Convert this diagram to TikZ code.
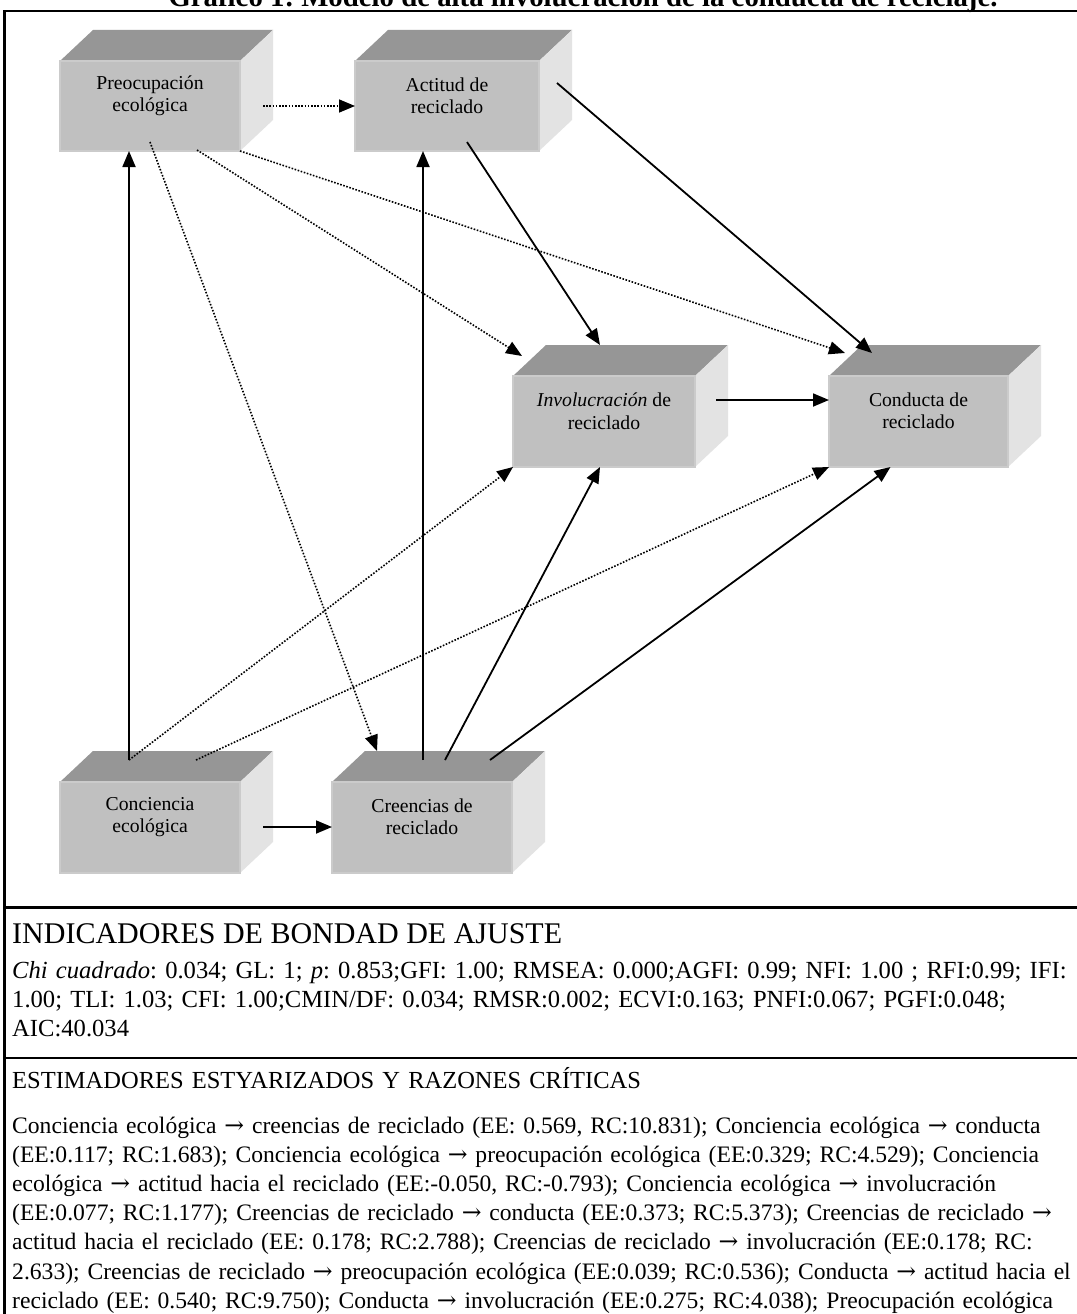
\documentclass[tikz,border=0pt]{standalone}
\usepackage{fontspec}
\setmainfont{Liberation Serif}
\newfontfamily\arrowfont{DejaVu Serif}
\newcommand\rarr{{\arrowfont →}}
\usetikzlibrary{arrows.meta,calc}
\definecolor{frontgray}{HTML}{C0C0C0}
\definecolor{topgray}{HTML}{969696}
\definecolor{sidegray}{HTML}{E3E3E3}
\definecolor{edgegray}{HTML}{CBCBCB}
\tikzset{
  topface/.style={fill=topgray},
  sideface/.style={fill=sidegray},
  frontface/.style={fill=frontgray, draw=edgegray, line width=1.5pt, inner sep=0pt, outer sep=0pt, anchor=north west},
  boxtext/.style={align=center, inner sep=0pt, font=\fontsize{19.7}{22.5}\selectfont},
  solidarrow/.style={line width=1.8pt, -{Triangle[length=16pt,width=13pt]}},
  dotarrow/.style={line width=1.6pt, dash pattern=on 1.6pt off 1.6pt, -{Triangle[length=16pt,width=13pt]}},
  framerule/.style={line width=2.5pt},
  hdrtext/.style={anchor=base west, inner sep=0pt, font=\fontsize{30}{34}\selectfont},
  bodytext/.style={anchor=base west, inner sep=0pt, text width=1300pt, align=left},
  titletext/.style={anchor=base, inner sep=0pt, font=\fontsize{28.8}{32}\selectfont\bfseries}
}
\newcommand\cubebox[6]{%
  \fill[topface] (#2,#3) -- ++(33,-31) -- ++(#4,0) -- ++(-33,31) -- cycle;
  \fill[sideface] (#2+#4,#3) -- ++(33,-31) -- ++(0,#5) -- ++(-33,31) -- cycle;
  \node[frontface, minimum width=#4pt, minimum height=#5pt] (#1) at (#2,#3) {};
  \node[boxtext] (#1-t) at ($(#1.north)+(0,35)$) {#6};
}
\hyphenpenalty=10000
\frenchspacing
\begin{document}
\begin{tikzpicture}[x=1pt,y=-1pt]
\useasboundingbox (0,0) rectangle (1076,1314);
\fill[white] (0,0) rectangle (1076,1314);
% title (cut by the page edge)
\node[titletext] (title) at (583,7) {Gráfico 1: Modelo de alta involucración de la conducta de reciclaje.};
% frame
\draw[framerule] (4.5,1330) -- (4.5,11) -- (1090,11);
\draw[line width=3pt] (4.5,907) -- (1090,907);
\draw[line width=2pt] (4.5,1058) -- (1090,1058);
% boxes
\cubebox{preoc}{60}{61}{180}{90}{Preocupación\\ecológica}
\cubebox{actitud}{355}{61}{184}{90}{Actitud de\\reciclado}
\cubebox{invol}{513}{376}{182}{91}{\textit{Involucración} de\\reciclado}
\cubebox{conducta}{829}{376}{179}{91}{Conducta de\\reciclado}
\cubebox{conciencia}{60}{782}{180}{91}{Conciencia\\ecológica}
\cubebox{creencias}{332}{782}{180}{91}{Creencias de\\reciclado}
% named start points
\coordinate (cc-a) at ($(conciencia.north)+(-21,-22)$);
\coordinate (cc-b) at ($(conciencia.north)+(46,-22)$);
\coordinate (cc-c) at ($(conciencia.north east)+(23,45)$);
\coordinate (cr-a) at ($(creencias.north)+(1,-22)$);
\coordinate (cr-b) at ($(creencias.north)+(23,-22)$);
\coordinate (cr-c) at ($(creencias.north)+(68,-22)$);
\coordinate (pr-a) at ($(preoc.south)+(0,-9)$);
\coordinate (pr-b) at ($(preoc.south)+(47,-1)$);
\coordinate (ac-a) at ($(actitud.south)+(20,-9)$);
\coordinate (ac-b) at ($(actitud.north east)+(18,22)$);
\coordinate (iv-a) at ($(invol.north east)+(21,24)$);
% connectors
\draw[dotarrow] ($(preoc.east)+(23,0)$) -- (actitud.west);
\draw[solidarrow] (cc-a) -- (cc-a |- preoc.south);
\draw[solidarrow] (cr-a) -- (cr-a |- actitud.south);
\draw[solidarrow] (cr-b) -- ($(invol.south)+(-4,0)$);
\draw[solidarrow] (cr-c) -- ($(conducta.south)+(-28,0)$);
\draw[dotarrow] (cc-a) -- (invol.south west);
\draw[dotarrow] (cc-b) -- (conducta.south west);
\draw[dotarrow] (pr-a) -- ($(creencias.north west)+(45,-31)$);
\draw[dotarrow] (pr-b) -- ($(invol.north west)+(9,-20)$);
\draw[dotarrow] (preoc.south east) -- ($(conducta.north west)+(16,-23)$);
\draw[solidarrow] (ac-a) -- ($(invol.north)+(-4,-31)$);
\draw[solidarrow] (ac-b) -- ($(conducta.north west)+(43,-23)$);
\draw[solidarrow] (iv-a) -- (iv-a -| conducta.west);
\draw[solidarrow] (cc-c) -- (cc-c -| creencias.west);
% texts
\node[hdrtext] (ind) at (12,943) {INDICADORES DE BONDAD DE AJUSTE};
\node[bodytext, font=\fontsize{24.6}{29}\selectfont] (fit) at (12,978) {\textit{Chi cuadrado}: 0.034; GL: 1; \textit{p}: 0.853;GFI: 1.00; RMSEA: 0.000;AGFI: 0.99; NFI: 1.00 ; RFI:0.99; IFI:\\
1.00; TLI: 1.03; CFI: 1.00;CMIN/DF: 0.034; RMSR:0.002; ECVI:0.163; PNFI:0.067; PGFI:0.048;\\
AIC:40.034};
\node[bodytext, font=\fontsize{24.5}{29}\selectfont] (est) at (12,1088) {ESTIMADORES ESTYARIZADOS Y RAZONES CRÍTICAS};
\node[bodytext, font=\fontsize{23.6}{29.2}\selectfont] (paths) at (12,1133) {Conciencia ecológica \rarr{} creencias de reciclado (EE: 0.569, RC:10.831); Conciencia ecológica \rarr{} conducta\\
(EE:0.117; RC:1.683); Conciencia ecológica \rarr{} preocupación ecológica (EE:0.329; RC:4.529); Conciencia\\
ecológica \rarr{} actitud hacia el reciclado (EE:-0.050, RC:-0.793); Conciencia ecológica \rarr{} involucración\\
(EE:0.077; RC:1.177); Creencias de reciclado \rarr{} conducta (EE:0.373; RC:5.373); Creencias de reciclado \rarr\\
actitud hacia el reciclado (EE: 0.178; RC:2.788); Creencias de reciclado \rarr{} involucración (EE:0.178; RC:\\
2.633); Creencias de reciclado \rarr{} preocupación ecológica (EE:0.039; RC:0.536); Conducta \rarr{} actitud hacia el\\
reciclado (EE: 0.540; RC:9.750); Conducta \rarr{} involucración (EE:0.275; RC:4.038); Preocupación ecológica};
\end{tikzpicture}
\end{document}
